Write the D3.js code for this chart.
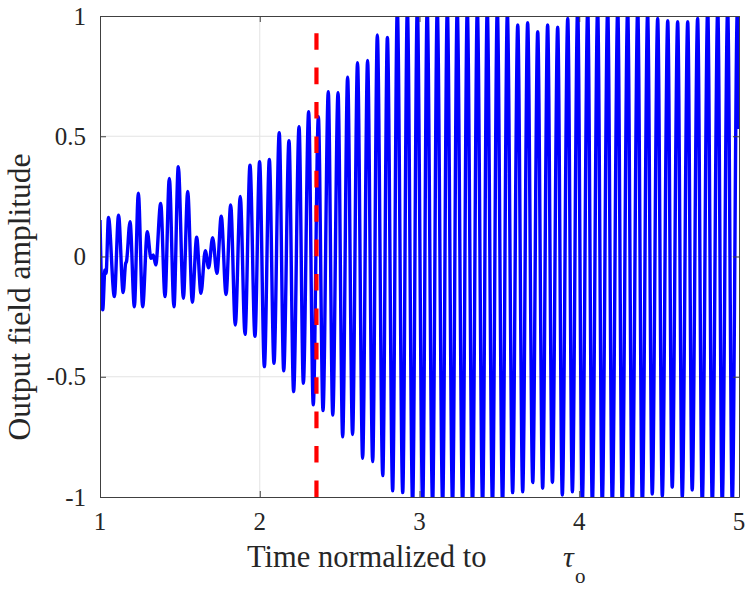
<!DOCTYPE html>
<html>
<head>
<meta charset="utf-8">
<script src="https://cdn.jsdelivr.net/npm/d3@7"></script>
<style>
  body { margin: 0; background: #fff; }
  text { font-family: "Liberation Serif", "Times New Roman", serif; fill: #262626; }
</style>
</head>
<body>
<svg id="chart" width="747" height="589"></svg>
<script>
// extrema of the output field (t in units of tau_o)
var tPts = [
  1.000, 1.017, 1.031, 1.038, 1.053, 1.090, 1.116, 1.145, 1.160, 1.166,
  1.188, 1.215, 1.240, 1.267, 1.296, 1.319, 1.334, 1.349, 1.380, 1.407,
  1.434, 1.463, 1.490, 1.522, 1.549, 1.578, 1.605, 1.632, 1.659, 1.680,
  1.705, 1.732, 1.759, 1.789, 1.818, 1.847, 1.878, 1.908, 1.939, 1.970,
  1.999, 2.029, 2.060, 2.089, 2.122, 2.150, 2.183, 2.212, 2.246, 2.273,
  2.306, 2.335, 2.367, 2.396, 2.429, 2.457, 2.490, 2.519, 2.550, 2.581,
  2.612, 2.644, 2.675, 2.707, 2.736, 2.770, 2.799, 2.832, 2.861, 2.895,
  2.924, 2.957, 2.986, 3.020, 3.048, 3.082, 3.111, 3.145, 3.174, 3.207,
  3.236, 3.270, 3.299, 3.332, 3.362, 3.395, 3.424, 3.457, 3.487, 3.520,
  3.550, 3.583, 3.615, 3.646, 3.677, 3.709, 3.740, 3.771, 3.802, 3.832,
  3.865, 3.894, 3.928, 3.957, 3.990, 4.019, 4.053, 4.082, 4.115, 4.144,
  4.178, 4.207, 4.241, 4.269, 4.303, 4.332, 4.366, 4.395, 4.428, 4.457,
  4.491, 4.520, 4.554, 4.582, 4.616, 4.645, 4.679, 4.707, 4.741, 4.770,
  4.804, 4.833, 4.867, 4.895, 4.929, 4.958, 4.990, 5.000
];
var ampPts = [
  0.152, -0.222, -0.056, -0.070, 0.162, -0.167, 0.172, -0.150, -0.030, -0.020,
  0.145, -0.209, 0.263, -0.209, 0.103, -0.008, 0.006, -0.035, 0.221, -0.167,
  0.325, -0.209, 0.373, -0.174, 0.270, -0.190, 0.080, -0.153, 0.024, -0.047,
  0.078, -0.070, 0.168, -0.158, 0.214, -0.285, 0.250, -0.324, 0.380, -0.332,
  0.394, -0.458, 0.404, -0.444, 0.515, -0.475, 0.482, -0.562, 0.540, -0.527,
  0.602, -0.617, 0.581, -0.641, 0.685, -0.659, 0.681, -0.750, 0.746, -0.740,
  0.806, -0.839, 0.815, -0.853, 0.921, -0.911, 0.911, -0.974, 1.030, -0.982,
  1.030, -1.030, 1.030, -1.030, 1.030, -1.030, 1.030, -1.030, 1.030, -1.030,
  1.030, -1.030, 1.030, -1.030, 1.030, -1.030, 1.030, -1.030, 1.030, -1.030,
  1.010, -0.982, 0.963, -0.978, 0.972, -0.940, 0.935, -0.964, 0.963, -0.940,
  0.953, -0.992, 0.990, -0.978, 1.030, -1.030, 1.030, -1.030, 1.030, -1.030,
  1.030, -1.030, 1.030, -1.030, 1.030, -1.030, 1.030, -1.030, 1.010, -0.988,
  0.990, -0.996, 0.980, -0.960, 0.976, -0.999, 0.976, -0.971, 0.990, -1.030,
  1.030, -1.030, 1.030, -1.030, 1.030, -1.030, 1.030, 0.530
];
var markerT = 2.355;   // red dashed line

var xTicks = [1, 2, 3, 4, 5];
var yTicks = [-1, -0.5, 0, 0.5, 1];
var yTickLabels = ["-1", "-0.5", "0", "0.5", "1"];

var plotL = 100, plotR = 739, plotT = 16, plotB = 497;

var svg = d3.select("#chart");

var x = d3.scaleLinear().domain([1, 5]).range([plotL, plotR]);
var y = d3.scaleLinear().domain([-1, 1]).range([plotB, plotT]);

svg.append("defs").append("clipPath")
    .attr("id", "plotclip")
  .append("rect")
    .attr("x", plotL).attr("y", plotT)
    .attr("width", plotR - plotL).attr("height", plotB - plotT);

// grid
svg.append("g")
    .selectAll("line")
    .data(xTicks.slice(1, -1))
    .enter().append("line")
      .attr("x1", function(d) { return x(d); })
      .attr("x2", function(d) { return x(d); })
      .attr("y1", plotT).attr("y2", plotB)
      .style("stroke", "#e3e3e3");
svg.append("g")
    .selectAll("line")
    .data(yTicks.slice(1, -1))
    .enter().append("line")
      .attr("y1", function(d) { return y(d); })
      .attr("y2", function(d) { return y(d); })
      .attr("x1", plotL).attr("x2", plotR)
      .style("stroke", "#e3e3e3");

var pts = tPts.map(function(t, i) { return [t, ampPts[i]]; });

var lineFn = d3.line()
    .x(function(d) { return x(d[0]); })
    .y(function(d) { return y(d[1]); })
    .curve(d3.curveMonotoneX);

var plot = svg.append("g").attr("clip-path", "url(#plotclip)");

plot.append("path")
    .datum(pts)
    .attr("d", lineFn)
    .style("fill", "none")
    .style("stroke", "#0000ff")
    .style("stroke-width", 3.4)
    .style("stroke-linejoin", "round");

plot.append("line")
    .attr("x1", x(markerT)).attr("x2", x(markerT))
    .attr("y1", y(-1)).attr("y2", y(1))
    .style("stroke", "#ff0000")
    .style("stroke-width", 4.2)
    .style("stroke-dasharray", "16.6,17.8");

// axes box with inward ticks on all sides
var axisCol = "#404040";
var xAxB = d3.axisBottom(x).tickValues(xTicks).tickSizeInner(-6).tickSizeOuter(0).tickFormat("");
var xAxT = d3.axisTop(x).tickValues(xTicks).tickSizeInner(-6).tickSizeOuter(0).tickFormat("");
var yAxL = d3.axisLeft(y).tickValues(yTicks).tickSizeInner(-6).tickSizeOuter(0).tickFormat("");
var yAxR = d3.axisRight(y).tickValues(yTicks).tickSizeInner(-6).tickSizeOuter(0).tickFormat("");

[[xAxB, "translate(0," + plotB + ")"], [xAxT, "translate(0," + plotT + ")"],
 [yAxL, "translate(" + plotL + ",0)"], [yAxR, "translate(" + plotR + ",0)"]].forEach(function(a) {
  var g = svg.append("g").attr("transform", a[1]).call(a[0]);
  g.selectAll("path, line").style("stroke", axisCol).style("stroke-width", 1);
});

// tick labels
svg.append("g").selectAll("text")
    .data(xTicks)
    .enter().append("text")
      .attr("x", function(d) { return x(d); })
      .attr("y", 530)
      .attr("text-anchor", "middle")
      .style("font-size", "25px")
      .text(function(d) { return d; });

svg.append("g").selectAll("text")
    .data(yTicks)
    .enter().append("text")
      .attr("x", 86)
      .attr("y", function(d) { return y(d); })
      .attr("dy", "0.34em")
      .attr("text-anchor", "end")
      .style("font-size", "25px")
      .text(function(d, i) { return yTickLabels[i]; });

// axis labels
svg.append("text")
    .attr("x", 247).attr("y", 567)
    .style("font-size", "30.5px")
    .text("Time normalized to");
svg.append("text")
    .attr("x", 563).attr("y", 567)
    .style("font-size", "30px")
    .style("font-style", "italic")
    .text("τ");
svg.append("text")
    .attr("x", 575).attr("y", 583)
    .style("font-size", "21px")
    .text("o");

svg.append("text")
    .attr("transform", "translate(30,297) rotate(-90)")
    .attr("text-anchor", "middle")
    .style("font-size", "31.5px")
    .text("Output field amplitude");
</script>
</body>
</html>
